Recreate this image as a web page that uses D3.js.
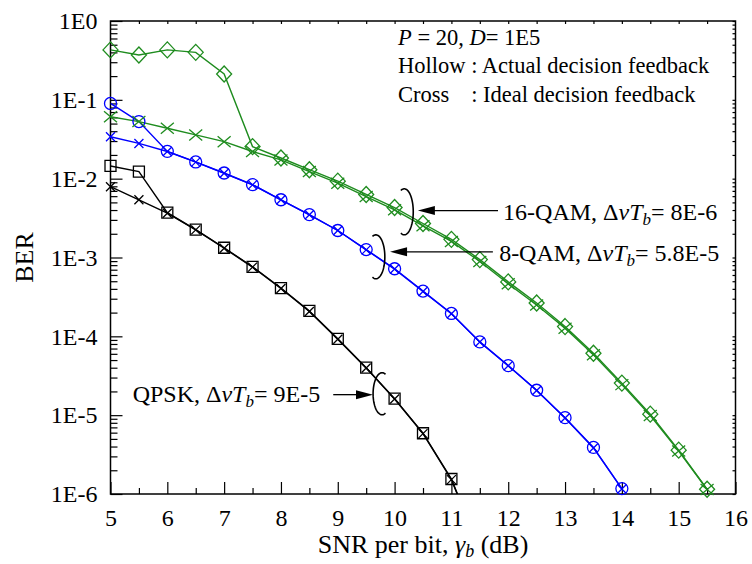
<!DOCTYPE html>
<html>
<head>
<meta charset="utf-8">
<script src="https://cdn.jsdelivr.net/npm/d3@7"></script>
<style>
  body { margin: 0; background: #fff; }
  svg { display: block; font-family: "Liberation Serif", "Times New Roman", serif; }
</style>
</head>
<body>
<svg id="chart" width="752" height="564"></svg>
<script>
// SNR per bit (dB)
const snr = [5, 5.5, 6, 6.5, 7, 7.5, 8, 8.5, 9, 9.5, 10, 10.5, 11, 11.5, 12, 12.5, 13, 13.5, 14, 14.5, 15, 15.5];

// QPSK
const qpskActual = [0.0145, 0.0123, 0.0037, 0.00226, 0.00133, 7.6e-4, 4.1e-4, 2.1e-4, 9.3e-5, 4.0e-5, 1.62e-5, 5.9e-6, 1.55e-6, 2e-7];
const qpskIdeal = [0.0079, 0.0054, 0.00365, 0.00224, 0.00131, 7.55e-4, 4.05e-4, 2.07e-4, 9.2e-5, 3.96e-5, 1.6e-5, 5.83e-6, 1.52e-6, 1.95e-7];

// 8-QAM
const qam8Actual = [0.09, 0.053, 0.0222, 0.0163, 0.0118, 0.0084, 0.0054, 0.0035, 0.0022, 0.00126, 7.2e-4, 3.75e-4, 1.95e-4, 8.5e-5, 4.25e-5, 2.07e-5, 9.3e-6, 3.9e-6, 1.17e-6];
const qam8Ideal = [0.034, 0.028, 0.0221, 0.0162, 0.0117, 0.00834, 0.00539, 0.00348, 0.0022, 0.00125, 7.13e-4, 3.71e-4, 1.93e-4, 8.47e-5, 4.24e-5, 2.06e-5, 9.2e-6, 3.84e-6, 1.16e-6];

// 16-QAM
const qam16Actual = [0.43, 0.37, 0.43, 0.40, 0.213, 0.0255, 0.0183, 0.013, 0.0093, 0.0063, 0.0043, 0.0027, 0.0017, 9.4e-4, 4.9e-4, 2.65e-4, 1.33e-4, 6.1e-5, 2.55e-5, 1.03e-5, 3.6e-6, 1.15e-6];
const qam16Ideal = [0.061, 0.053, 0.0436, 0.0359, 0.0295, 0.0221, 0.0173, 0.0123, 0.00877, 0.00593, 0.00402, 0.00252, 0.0016, 8.9e-4, 4.64e-4, 2.5e-4, 1.27e-4, 5.85e-5, 2.44e-5, 9.9e-6, 3.5e-6, 1.14e-6];

const xTicks = [5, 6, 7, 8, 9, 10, 11, 12, 13, 14, 15, 16];
const yTicks = [1, 1e-1, 1e-2, 1e-3, 1e-4, 1e-5, 1e-6];

const svg = d3.select("#chart");
const pLeft = 110.5, pRight = 735.5, pTop = 21, pBottom = 494;

const x = d3.scaleLinear().domain([5, 16]).range([pLeft, pRight]);
const y = d3.scaleLog().domain([1e-6, 1]).range([pBottom, pTop]);

const green = "#1f8c1f", blue = "#0000ff", black = "#000";

// clip
svg.append("defs").append("clipPath").attr("id", "clip")
  .append("rect").attr("x", pLeft).attr("y", pTop)
  .attr("width", pRight - pLeft).attr("height", pBottom - pTop);

// axes
const fs = 24;
const xAxis = svg.append("g").attr("transform", `translate(0,${pBottom})`)
  .call(d3.axisBottom(x).tickValues(xTicks).tickSizeInner(-12).tickSizeOuter(0)
    .tickPadding(15).tickFormat(d3.format("d")));
xAxis.selectAll("text").attr("font-size", fs).attr("font-family", "Liberation Serif");
svg.append("g").attr("transform", `translate(0,${pBottom})`)
  .call(d3.axisBottom(x).tickValues(d3.range(5.5, 16, 1)).tickSizeInner(-6).tickSizeOuter(0).tickFormat(""));
svg.append("g").attr("transform", `translate(0,${pTop})`)
  .call(d3.axisTop(x).tickValues(d3.range(5.5, 16, 0.5)).tickSizeInner(-3).tickSizeOuter(0).tickFormat(""));

const yAxis = svg.append("g").attr("transform", `translate(${pLeft},0)`)
  .call(d3.axisLeft(y).tickValues(yTicks).tickSizeInner(-12).tickSizeOuter(0)
    .tickPadding(13).tickFormat(d => "1E" + Math.round(Math.log10(d))));
yAxis.selectAll("text").attr("font-size", fs).attr("font-family", "Liberation Serif");

const minorY = [];
for (let k = -6; k < 0; k++) for (let m = 2; m <= 9; m++) minorY.push(m * Math.pow(10, k));
svg.append("g").attr("transform", `translate(${pLeft},0)`)
  .call(d3.axisLeft(y).tickValues(minorY).tickSizeInner(-7).tickSizeOuter(0).tickFormat(""));
svg.append("g").attr("transform", `translate(${pRight},0)`)
  .call(d3.axisRight(y).tickValues(minorY.concat(yTicks)).tickSizeInner(-3).tickSizeOuter(0).tickFormat(""));

svg.selectAll(".domain").remove();
svg.selectAll(".tick line").attr("stroke", "#000").attr("stroke-width", 1.2);

svg.append("rect").attr("x", pLeft).attr("y", pTop)
  .attr("width", pRight - pLeft).attr("height", pBottom - pTop)
  .attr("fill", "none").attr("stroke", "#000").attr("stroke-width", 1.5);

// axis labels
svg.append("text").attr("x", (pLeft + pRight) / 2).attr("y", 553)
  .attr("text-anchor", "middle").attr("font-size", 26)
  .call(t => {
    t.append("tspan").text("SNR per bit, ");
    t.append("tspan").attr("font-style", "italic").text("γ");
    t.append("tspan").attr("font-style", "italic").attr("font-size", 18).attr("dy", 4).text("b");
    t.append("tspan").attr("dy", -4).text(" (dB)");
  });

svg.append("text").attr("transform", `translate(33,${(pTop + pBottom) / 2}) rotate(-90)`)
  .attr("text-anchor", "middle").attr("font-size", 26).text("BER");

// series
const series = [
  { xs: snr, ys: qpskActual, color: black, marker: "square" },
  { xs: snr, ys: qpskIdeal, color: black, marker: "xsmall" },
  { xs: snr, ys: qam8Actual, color: blue, marker: "circle" },
  { xs: snr, ys: qam8Ideal, color: blue, marker: "xsmall" },
  { xs: snr, ys: qam16Actual, color: green, marker: "diamond" },
  { xs: snr, ys: qam16Ideal, color: green, marker: "xlarge" }
];

const plot = svg.append("g").attr("clip-path", "url(#clip)");
const line = d3.line().x(d => x(d[0])).y(d => y(d[1]));

series.forEach(s => {
  const pts = s.ys.map((v, i) => [s.xs[i], v]);
  plot.append("path").datum(pts)
    .attr("d", line).attr("fill", "none")
    .attr("stroke", s.color).attr("stroke-width", 1.4);
});

const markerPath = {
  square: "M-5.5,-5.5H5.5V5.5H-5.5Z",
  circle: "M6,0A6,6 0 1,1 -6,0A6,6 0 1,1 6,0Z",
  diamond: "M0,-8L7.5,0L0,8L-7.5,0Z",
  xsmall: "M-4.5,-4.5L4.5,4.5M-4.5,4.5L4.5,-4.5",
  xlarge: "M-6.5,-5.5L6.5,5.5M-6.5,5.5L6.5,-5.5"
};

series.forEach(s => {
  const pts = s.ys.map((v, i) => [s.xs[i], v]).filter(d => d[1] >= 1e-6);
  svg.append("g").selectAll("path").data(pts).join("path")
    .attr("transform", d => `translate(${x(d[0])},${y(d[1])})`)
    .attr("d", markerPath[s.marker])
    .attr("fill", "none").attr("stroke", s.color).attr("stroke-width", 1.3);
});

// annotations: bracket arcs + arrows (positions in data units)
const annBrackets = [
  { cx: 10.17, cy: 3.8e-3, rx: 9, ry: 23, a0: -112, a1: 112 },
  { cx: 9.67, cy: 1.02e-3, rx: 9, ry: 22, a0: -112, a1: 112 },
  { cx: 9.78, cy: 1.87e-5, rx: 9, ry: 21, a0: 68, a1: 292 }
];
const annArrows = [
  { from: 11.82, to: 10.41, at: 3.94e-3 },
  { from: 11.73, to: 9.92, at: 1.18e-3 },
  { from: 8.92, to: 9.62, at: 1.82e-5 }
];
const annLabels = [
  { x: 11.91, y: 220, name: "16-QAM, ", val: "= 8E-6" },
  { x: 11.84, y: 261, name: "8-QAM, ", val: "= 5.8E-5" },
  { x: 5.39, y: 402, name: "QPSK, ", val: "= 9E-5" }
];

const ann = svg.append("g");
annBrackets.forEach(b => {
  const cx = x(b.cx), cy = y(b.cy);
  const angs = d3.range(b.a0, b.a1 + 0.1, 4).map(a => a * Math.PI / 180);
  ann.append("path")
    .attr("d", d3.line()(angs.map(a => [cx + b.rx * Math.cos(a), cy + b.ry * Math.sin(a)])))
    .attr("fill", "none").attr("stroke", "#000").attr("stroke-width", 1.6);
});
annArrows.forEach(a => {
  const x0 = x(a.from), x1 = x(a.to), yy = y(a.at);
  const dir = x1 < x0 ? 1 : -1;
  ann.append("line").attr("x1", x0).attr("x2", x1 + dir * 10).attr("y1", yy).attr("y2", yy)
    .attr("stroke", "#000").attr("stroke-width", 1.3);
  ann.append("path")
    .attr("d", `M${x1},${yy}L${x1 + dir * 17},${yy - 4.5}L${x1 + dir * 17},${yy + 4.5}Z`)
    .attr("fill", "#000");
});
annLabels.forEach(l => {
  const t = ann.append("text").attr("x", x(l.x)).attr("y", l.y).attr("font-size", 24);
  t.append("tspan").text(l.name + "Δ");
  t.append("tspan").attr("font-style", "italic").text("νT");
  t.append("tspan").attr("font-style", "italic").attr("font-size", 17).attr("dy", 5).text("b");
  t.append("tspan").attr("dy", -5).text(l.val);
});

// legend text
const lgX = 398;
const lg = svg.append("g").attr("font-size", 22.5);
const l1 = lg.append("text").attr("x", lgX).attr("y", 45);
l1.append("tspan").attr("font-style", "italic").text("P");
l1.append("tspan").text("  = 20, ");
l1.append("tspan").attr("font-style", "italic").text("D");
l1.append("tspan").text("= 1E5");
const l2 = lg.append("text").attr("x", lgX).attr("y", 73);
const l2a = l2.append("tspan").text("Hollow ");
l2.append("tspan").text(": Actual decision feedback");
const colonX = lgX + l2a.node().getComputedTextLength();
const l3 = lg.append("text").attr("x", lgX).attr("y", 102);
l3.append("tspan").text("Cross");
l3.append("tspan").attr("x", colonX).text(": Ideal decision feedback");
</script>
</body>
</html>
